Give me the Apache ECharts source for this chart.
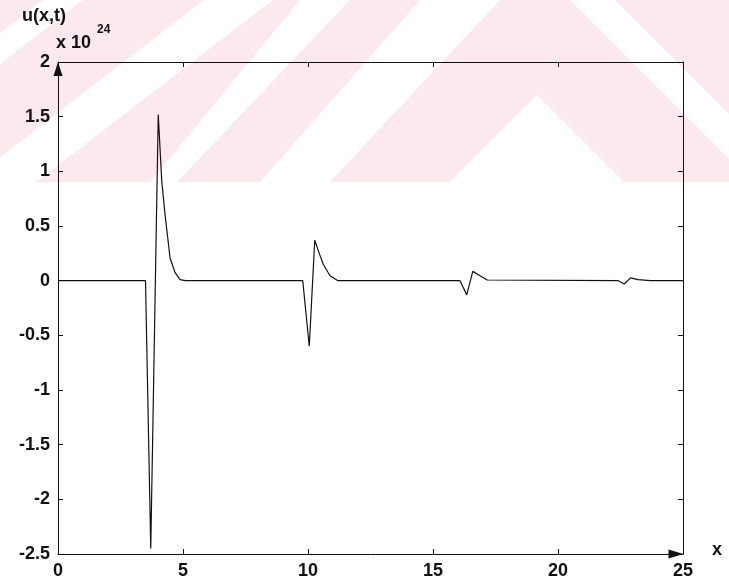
<!DOCTYPE html>
<html>
<head>
<meta charset="utf-8">
<script src="https://cdn.jsdelivr.net/npm/echarts@6/dist/echarts.min.js"></script>
<style>html,body{margin:0;padding:0;background:#fff}#c{width:729px;height:587px}</style>
</head>
<body>
<div id="c"></div>
<script>
// x positions and u values (units of 1e24)
var xs = [0, 3.5, 3.71, 4.01, 4.15, 4.28, 4.48, 4.68, 4.88, 5.1,
          9.79, 10.05, 10.27, 10.45, 10.61, 10.88, 11.2,
          16.08, 16.35, 16.59, 16.88, 17.17,
          22.41, 22.65, 22.9, 23.2, 23.7, 25];
var ys = [0, 0, -2.45, 1.52, 0.91, 0.61, 0.21, 0.075, 0.01, 0,
          0, -0.6, 0.37, 0.25, 0.15, 0.045, 0,
          0, -0.13, 0.085, 0.045, 0.006,
          0, -0.03, 0.025, 0.01, 0, 0];
var xTicks = [0, 5, 10, 15, 20, 25];
var yTicks = [-2.5, -2, -1.5, -1, -0.5, 0, 0.5, 1, 1.5, 2];

var data = xs.map(function (x, i) { return [x, ys[i]]; });
var font = '"Liberation Sans", Arial, sans-serif';
var ink = '#111';

var chart = echarts.init(document.getElementById('c'), null, {renderer: 'canvas'});
var pink = '#fce9ee';
function poly(pts) {
  return {type: 'polygon', z: -100, silent: true, shape: {points: pts}, style: {fill: '#ffffff'}};
}
chart.setOption({
  animation: false,
  backgroundColor: '#ffffff',
  graphic: [
    {type: 'rect', z: -101, silent: true, shape: {x: 0, y: 0, width: 729, height: 182}, style: {fill: pink}},
    poly([[43, 0], [83, 0], [0, 64], [0, 33]]),
    poly([[204, 0], [273, 0], [36, 182], [-32, 182]]),
    poly([[300, 0], [350, 0], [177, 182], [150, 182]]),
    poly([[420, 0], [500, 0], [330, 182], [260, 182]]),
    poly([[537, 95], [624, 182], [450, 182]]),
    poly([[570, 0], [615, 0], [797, 182], [752, 182]]),
    {type: 'text', left: 22, top: 7, style: {text: 'u(x,t)', font: 'bold 18px ' + font, fill: ink}},
    {type: 'text', left: 56, top: 34, style: {text: 'x 10', font: 'bold 18px ' + font, fill: ink}},
    {type: 'text', left: 97, top: 24, style: {text: '24', font: 'bold 12px ' + font, fill: ink}},
    {type: 'text', left: 712, top: 541, style: {text: 'x', font: 'bold 18px ' + font, fill: ink}}
  ],
  grid: {left: 58, right: 46, top: 62, bottom: 33, containLabel: false},
  xAxis: [{
    type: 'value', min: 0, max: 25, interval: 5, position: 'bottom',
    axisLine: {show: true, onZero: false, lineStyle: {color: ink, width: 1},
      symbol: ['none', 'triangle'], symbolSize: [9, 15], symbolOffset: [0, -7]},
    axisTick: {show: true, inside: true, length: 5, lineStyle: {color: ink}},
    axisLabel: {color: ink, fontFamily: font, fontWeight: 'bold', fontSize: 18, margin: 8,
      formatter: function (v) { return xTicks.indexOf(v) >= 0 ? String(v) : ''; }},
    splitLine: {show: false}
  }, {
    type: 'value', min: 0, max: 25, interval: 5, position: 'top',
    axisLine: {show: true, onZero: false, lineStyle: {color: ink, width: 1}},
    axisTick: {show: true, inside: true, length: 5, lineStyle: {color: ink}},
    axisLabel: {show: false}, splitLine: {show: false}
  }],
  yAxis: [{
    type: 'value', min: -2.5, max: 2, interval: 0.5, position: 'left',
    axisLine: {show: true, onZero: false, lineStyle: {color: ink, width: 1},
      symbol: ['none', 'triangle'], symbolSize: [9, 14], symbolOffset: [0, -7]},
    axisTick: {show: true, inside: true, length: 5, lineStyle: {color: ink}},
    axisLabel: {color: ink, fontFamily: font, fontWeight: 'bold', fontSize: 18, margin: 8,
      formatter: function (v) { return yTicks.indexOf(v) >= 0 ? String(v) : ''; }},
    splitLine: {show: false}
  }, {
    type: 'value', min: -2.5, max: 2, interval: 0.5, position: 'right',
    axisLine: {show: true, onZero: false, lineStyle: {color: ink, width: 1}},
    axisTick: {show: true, inside: true, length: 5, lineStyle: {color: ink}},
    axisLabel: {show: false}, splitLine: {show: false}
  }],
  series: [{
    type: 'line', xAxisIndex: 0, yAxisIndex: 0, data: data,
    showSymbol: false, symbol: 'none', smooth: false,
    lineStyle: {color: ink, width: 1.2}
  }]
});
</script>
</body>
</html>
